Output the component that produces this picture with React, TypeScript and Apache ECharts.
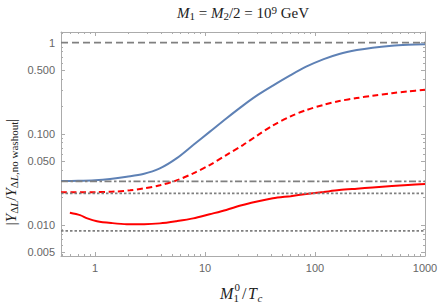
import React, { useEffect, useRef } from 'react';
import * as echarts from 'echarts';

// ---- data ----
const X_MIN = 0.49;
const X_MAX = 1000;
const Y_MIN = 0.00456;
const Y_MAX = 1.31;

const xTickValues = [1, 10, 100, 1000];
const xTickLabels = ['1', '10', '100', '1000'];
const yTickValues = [0.005, 0.01, 0.05, 0.1, 0.5, 1];
const yTickLabels = ['0.005', '0.010', '0.050', '0.100', '0.500', '1'];
const xMinorTicks = [0.5, 0.6, 0.7, 0.8, 0.9, 2, 3, 4, 5, 6, 7, 8, 9, 20, 30, 40, 50, 60, 70, 80, 90, 200, 300, 400, 500, 600, 700, 800, 900];
const yMinorTicks = [0.006, 0.007, 0.008, 0.009, 0.02, 0.03, 0.04, 0.06, 0.07, 0.08, 0.09, 0.2, 0.3, 0.4, 0.6, 0.7, 0.8, 0.9];

const blueX = [0.49, 0.7, 1, 1.37, 1.94, 2.74, 3.88, 5.5, 7.8, 11, 15.6, 22.1, 30.2, 41.4, 60, 83, 120, 166, 240, 334, 500, 700, 1000];
const blueY = [0.0303, 0.0305, 0.031, 0.032, 0.0338, 0.0362, 0.0417, 0.0537, 0.0752, 0.105, 0.1475, 0.204, 0.267, 0.338, 0.44, 0.545, 0.66, 0.752, 0.83, 0.882, 0.925, 0.947, 0.963];

const redDashX = [0.49, 1, 1.5, 2.08, 2.74, 3.88, 5.5, 7.8, 11, 15.6, 22.1, 30.2, 41.4, 60, 83, 120, 166, 240, 334, 500, 700, 1000];
const redDashY = [0.0228, 0.0229, 0.0232, 0.024, 0.0251, 0.0272, 0.0308, 0.0368, 0.0454, 0.0584, 0.0752, 0.0967, 0.1236, 0.1556, 0.182, 0.208, 0.229, 0.2466, 0.262, 0.279, 0.292, 0.305];

const redSolidX = [0.59, 0.73, 0.85, 1.04, 1.4, 1.94, 2.8, 3.88, 5.5, 7.8, 11, 15.6, 20.6, 25.4, 41.4, 60, 83, 120, 166, 240, 334, 500, 700, 1000];
const redSolidY = [0.0136, 0.0128, 0.0118, 0.011, 0.0105, 0.0102, 0.0102, 0.0104, 0.011, 0.0118, 0.0131, 0.0146, 0.0162, 0.0173, 0.0196, 0.0207, 0.0218, 0.023, 0.0241, 0.025, 0.0258, 0.0267, 0.0274, 0.0281];

const refDashedY = 1;
const refDashDotY = 0.03;
const refDottedY = [0.0222, 0.00862];

const FRAME = '#ababab';
const TICKLABEL = '#666666';
const INK = '#222222';
const SERIF = '"Liberation Serif", "DejaVu Serif", serif';
const SANS = '"Liberation Sans", Arial, sans-serif';

const pairs = (xs: number[], ys: number[]) => xs.map((x, i) => [x, ys[i]]);
const hline = (v: number) => [[X_MIN, v], [X_MAX, v]];

function makeXAxis(position: 'bottom' | 'top', values: number[], len: number, withLine: boolean, withLabel: boolean) {
  return {
    type: 'log',
    logBase: 10,
    min: X_MIN,
    max: X_MAX,
    position,
    axisLine: { show: withLine, onZero: false, lineStyle: { color: FRAME, width: 1 } },
    axisTick: { show: true, inside: true, length: len, customValues: values, lineStyle: { color: FRAME, width: 1 } },
    axisLabel: withLabel
      ? {
          show: true,
          customValues: xTickValues,
          formatter: (v: number) => {
            const i = xTickValues.findIndex((t) => Math.abs(t - v) / t < 1e-6);
            return i >= 0 ? xTickLabels[i] : '';
          },
          color: TICKLABEL,
          fontFamily: SANS,
          fontSize: 11,
          margin: 6,
        }
      : { show: false },
    splitLine: { show: false },
    minorTick: { show: false },
  };
}

function makeYAxis(position: 'left' | 'right', values: number[], len: number, withLine: boolean, withLabel: boolean) {
  return {
    type: 'log',
    logBase: 10,
    min: Y_MIN,
    max: Y_MAX,
    position,
    axisLine: { show: withLine, onZero: false, lineStyle: { color: FRAME, width: 1 } },
    axisTick: { show: true, inside: true, length: len, customValues: values, lineStyle: { color: FRAME, width: 1 } },
    axisLabel: withLabel
      ? {
          show: true,
          customValues: yTickValues,
          formatter: (v: number) => {
            const i = yTickValues.findIndex((t) => Math.abs(t - v) / t < 1e-6);
            return i >= 0 ? yTickLabels[i] : '';
          },
          color: TICKLABEL,
          fontFamily: SANS,
          fontSize: 11,
          margin: 6,
        }
      : { show: false },
    splitLine: { show: false },
    minorTick: { show: false },
  };
}

export default function App() {
  const ref = useRef<HTMLDivElement>(null);

  useEffect(() => {
    if (!ref.current) return;
    const chart = echarts.init(ref.current, undefined, { renderer: 'svg' });

    const lineBase = { type: 'line', showSymbol: false, symbol: 'none', xAxisIndex: 0, yAxisIndex: 0, silent: true };

    const option: any = {
      animation: false,
      backgroundColor: '#ffffff',
      grid: { left: 61, right: 15, top: 32, bottom: 49, containLabel: false, outerBoundsMode: 'none' },
      xAxis: [
        makeXAxis('bottom', xTickValues, 4, true, true),
        makeXAxis('bottom', xMinorTicks, 2, false, false),
        makeXAxis('top', xTickValues, 4, true, false),
        makeXAxis('top', xMinorTicks, 2, false, false),
      ],
      yAxis: [
        makeYAxis('left', yTickValues, 4, true, true),
        makeYAxis('left', yMinorTicks, 2, false, false),
        makeYAxis('right', yTickValues, 4, true, false),
        makeYAxis('right', yMinorTicks, 2, false, false),
      ],
      series: [
        { ...lineBase, name: 'blue', smooth: 0.3, data: pairs(blueX, blueY), lineStyle: { color: '#5E81B5', width: 2 } },
        { ...lineBase, name: 'redDash', smooth: 0.3, data: pairs(redDashX, redDashY), lineStyle: { color: '#ff0000', width: 2, type: [6, 3.5] } },
        { ...lineBase, name: 'redSolid', smooth: 0.3, data: pairs(redSolidX, redSolidY), lineStyle: { color: '#ff0000', width: 2 } },
        { ...lineBase, name: 'refDashed', data: hline(refDashedY), lineStyle: { color: '#808080', width: 1.8, type: [7, 4] } },
        { ...lineBase, name: 'refDashDot', data: hline(refDashDotY), lineStyle: { color: '#808080', width: 1.8, type: [7, 2.5, 2.5, 2.5] } },
        ...refDottedY.map((v, i) => ({ ...lineBase, name: 'refDotted' + i, data: hline(v), lineStyle: { color: '#808080', width: 1.8, type: [2.5, 2] } })),
      ],
      graphic: [
        {
          type: 'text',
          x: 243,
          y: 13,
          style: {
            text: '{mi|M}{sub|1}{m| = }{mi|M}{sub|2}{m|/2 = 10}{sup|9}{m| GeV}',
            align: 'center',
            verticalAlign: 'middle',
            fill: INK,
            rich: {
              m: { fontFamily: SERIF, fontSize: 15, lineHeight: 17, fill: INK },
              mi: { fontFamily: SERIF, fontSize: 15, fontStyle: 'italic', lineHeight: 17, fill: INK },
              sub: { fontFamily: SERIF, fontSize: 11, lineHeight: 8, verticalAlign: 'bottom', fill: INK },
              sup: { fontFamily: SERIF, fontSize: 11, lineHeight: 10, verticalAlign: 'top', fill: INK },
            },
          },
        },
        {
          type: 'text',
          x: 11,
          y: 172,
          rotation: Math.PI / 2,
          style: {
            text: '{m||}{mi|Y}{sub|Δ}{subi|L}{m|/}{mi|Y}{sub|Δ}{subi|L}{sub|,no washout}{m||}',
            align: 'center',
            verticalAlign: 'middle',
            fill: INK,
            rich: {
              m: { fontFamily: SERIF, fontSize: 15, lineHeight: 17, fill: INK },
              mi: { fontFamily: SERIF, fontSize: 15, fontStyle: 'italic', lineHeight: 17, fill: INK },
              sub: { fontFamily: SERIF, fontSize: 11, lineHeight: 9, verticalAlign: 'bottom', fill: INK },
              subi: { fontFamily: SERIF, fontSize: 11, fontStyle: 'italic', lineHeight: 9, verticalAlign: 'bottom', fill: INK },
            },
          },
        },
        {
          type: 'group',
          x: 220,
          y: 293,
          children: [
            { type: 'text', x: 0, y: 0, style: { text: 'M', font: `italic 16px ${SERIF}`, fill: INK, align: 'left', verticalAlign: 'middle' } },
            { type: 'text', x: 14.5, y: -6, style: { text: '0', font: `11px ${SERIF}`, fill: INK, align: 'left', verticalAlign: 'middle' } },
            { type: 'text', x: 13.5, y: 5, style: { text: '1', font: `11px ${SERIF}`, fill: INK, align: 'left', verticalAlign: 'middle' } },
            { type: 'text', x: 22, y: 0, style: { text: '/', font: `16px ${SERIF}`, fill: INK, align: 'left', verticalAlign: 'middle' } },
            { type: 'text', x: 28, y: 0, style: { text: 'T', font: `italic 16px ${SERIF}`, fill: INK, align: 'left', verticalAlign: 'middle' } },
            { type: 'text', x: 37.5, y: 5, style: { text: 'c', font: `italic 11px ${SERIF}`, fill: INK, align: 'left', verticalAlign: 'middle' } },
          ],
        },
      ],
    };

    chart.setOption(option);
    return () => chart.dispose();
  }, []);

  return <div ref={ref} style={{ position: 'absolute', left: 0, top: 0, width: 440, height: 305 }} />;
}
